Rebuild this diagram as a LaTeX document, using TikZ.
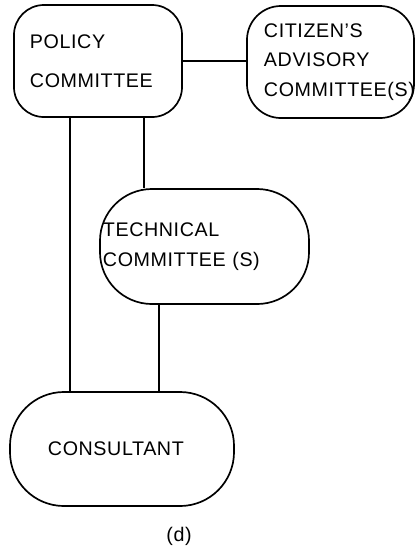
\documentclass[tikz,border=0pt]{standalone}
\usepackage{fontspec}
\setmainfont{Liberation Sans}[LetterSpace=3]
\usetikzlibrary{positioning}
\tikzset{
  box/.style={draw, line width=1.2pt, align=left, font=\fontsize{14}{21}\selectfont},
  link/.style={line width=1.1pt}
}
\begin{document}
\begin{tikzpicture}[x=0.025cm, y=-0.025cm]
\useasboundingbox (0,0) rectangle (416,549);
\node[box, rounded corners=0.75cm, text width=3.4cm, inner xsep=0.4cm, minimum height=2.8cm] (policy) at (98,61) {POLICY\\[7pt]COMMITTEE};
\node[box, rounded corners=0.85cm, text width=3.325cm, inner xsep=0.425cm, minimum height=2.8cm] (citizen) at (330.5,62) {CITIZEN'S\\ADVISORY\\COMMITTEE(S)};
\node[box, rounded corners=1.3cm, text width=5.075cm, inner xsep=0.075cm, minimum height=2.875cm] (technical) at (204.5,246.5) {TECHNICAL\\COMMITTEE (S)};
\node[box, rounded corners=1.35cm, text width=3.7cm, inner xsep=0.95cm, minimum height=2.85cm] (consultant) at (122,449) {CONSULTANT};
\node[font=\fontsize{14}{21}\selectfont] (label) at (179,536) {(d)};
\draw[link] (policy.east) -- (policy.east -| citizen.west);
\draw[link] (policy.south west) ++(57,0) coordinate (p1) -- (p1 |- consultant.north);
\draw[link] (policy.south west) ++(131,0) coordinate (p2) -- (p2 |- technical.north);
\draw[link] (technical.south west) ++(60,0) coordinate (p3) -- (p3 |- consultant.north);
\end{tikzpicture}
\end{document}
